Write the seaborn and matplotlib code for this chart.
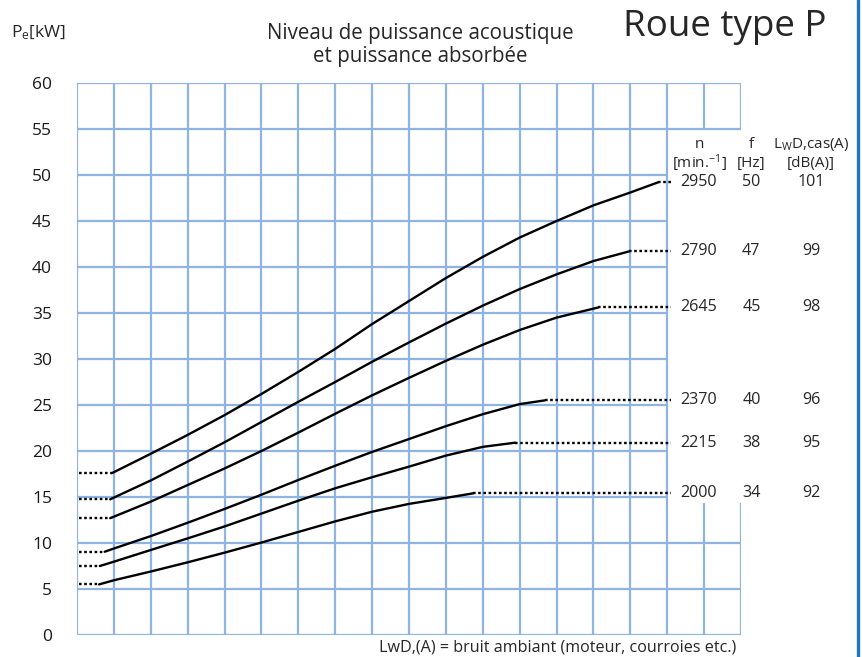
import matplotlib
matplotlib.use("Agg")
import matplotlib.pyplot as plt
from matplotlib.lines import Line2D
import seaborn as sns
import pandas as pd

# Fan speeds, supply frequency and sound power level per curve
speeds = [2950, 2790, 2645, 2370, 2215, 2000]
freqs = [50, 47, 45, 40, 38, 34]
lwd = [101, 99, 98, 96, 95, 92]

# Absorbed power curves: x in grid columns, y in kW
x_2950 = [0.95, 2, 3, 4, 5, 6, 7, 8, 9, 10, 11, 12, 13, 14, 15, 15.75]
p_2950 = [17.6, 19.7, 21.75, 23.9, 26.2, 28.6, 31.1, 33.8, 36.3, 38.8, 41.1, 43.2, 45.0, 46.7, 48.1, 49.2]

x_2790 = [0.9, 2, 3, 4, 5, 6, 7, 8, 9, 10, 11, 12, 13, 14, 14.97]
p_2790 = [14.75, 16.8, 18.85, 20.95, 23.15, 25.35, 27.5, 29.7, 31.8, 33.85, 35.8, 37.6, 39.2, 40.65, 41.7]

x_2645 = [0.9, 2, 3, 4, 5, 6, 7, 8, 9, 10, 11, 12, 13, 14.13]
p_2645 = [12.7, 14.5, 16.3, 18.1, 20.0, 22.0, 24.05, 26.05, 27.95, 29.8, 31.55, 33.15, 34.5, 35.6]

x_2370 = [0.75, 1, 2, 3, 4, 5, 6, 7, 8, 9, 10, 11, 12, 12.68]
p_2370 = [9.05, 9.4, 10.75, 12.2, 13.7, 15.25, 16.85, 18.4, 19.9, 21.3, 22.7, 24.0, 25.1, 25.5]

x_2215 = [0.62, 1, 2, 3, 4, 5, 6, 7, 8, 9, 10, 11, 11.87]
p_2215 = [7.5, 7.97, 9.24, 10.5, 11.8, 13.2, 14.6, 15.95, 17.15, 18.3, 19.5, 20.45, 20.9]

x_2000 = [0.6, 1, 2, 3, 4, 5, 6, 7, 8, 9, 10, 10.74]
p_2000 = [5.5, 5.95, 6.9, 7.9, 8.95, 10.05, 11.2, 12.35, 13.4, 14.25, 14.9, 15.4]

y_ticks = [0, 5, 10, 15, 20, 25, 30, 35, 40, 45, 50, 55, 60]

curves = [(x_2950, p_2950), (x_2790, p_2790), (x_2645, p_2645),
          (x_2370, p_2370), (x_2215, p_2215), (x_2000, p_2000)]

sns.set_theme(style="white")
plt.rcParams["font.family"] = ["Open Sans", "DejaVu Sans"]
plt.rcParams["mathtext.fontset"] = "custom"
plt.rcParams["mathtext.rm"] = "Open Sans"
plt.rcParams["mathtext.it"] = "Open Sans"

GRID = "#8db4e2"
fig = plt.figure(figsize=(8.63, 6.57), dpi=100)
ax = fig.add_axes([77 / 863, 22 / 657, 664 / 863, 552 / 657])
ax.set_xlim(0, 18)
ax.set_ylim(0, 60)
for s in ax.spines.values():
    s.set_visible(False)

# grid: the table area on the right is kept free of lines
for i in range(19):
    if i <= 16:
        ax.vlines(i, 0, 60, color=GRID, lw=1.6, zorder=1)
    else:
        ax.vlines(i, 0, 14.3, color=GRID, lw=1.6, zorder=1)
        ax.vlines(i, 55, 60, color=GRID, lw=1.6, zorder=1)
for v in y_ticks:
    right = 18 if v in (0, 5, 10, 55, 60) else 16
    ax.hlines(v, 0, right, color=GRID, lw=1.6, zorder=1)

ax.set_xticks([])
ax.set_yticks(y_ticks)
ax.set_yticklabels([str(v) for v in y_ticks])
ax.tick_params(axis="y", length=0, pad=18, labelsize=12.5, colors="#1a1a1a")

dot = (0, (1.1, 1.1))
x_end = 16.1
rows = []
for (xs, ps), n in zip(curves, speeds):
    for x, p in zip(xs, ps):
        rows.append({"x": x, "P": p, "n": n})
df = pd.DataFrame(rows)

FS = 11.6
for (xs, ps), n, f, l in zip(curves, speeds, freqs, lwd):
    sub = df[df["n"] == n]
    sns.lineplot(data=sub, x="x", y="P", color="black", lw=1.7, sort=False,
                 estimator=None, ax=ax, zorder=3)
    ax.plot([0.05, xs[0]], [ps[0], ps[0]], color="black", lw=1.7, ls=dot, zorder=3)
    ax.plot([xs[-1], x_end], [ps[-1], ps[-1]], color="black", lw=1.7, ls=dot, zorder=3)
    ax.text(16.86, ps[-1], str(n), ha="center", va="center", fontsize=FS, clip_on=False)
    ax.text(18.28, ps[-1], str(f), ha="center", va="center", fontsize=FS, clip_on=False)
    ax.text(19.9, ps[-1], str(l), ha="center", va="center", fontsize=FS, clip_on=False)

ax.set_xlabel("")
ax.set_ylabel("")

# table header
ax.text(16.86, 53.3, "n", ha="center", va="center", fontsize=11, clip_on=False)
ax.text(16.86, 51.3, r"[min.$^{\mathregular{-1}}$]", ha="center", va="center", fontsize=11, clip_on=False)
ax.text(18.28, 53.3, "f", ha="center", va="center", fontsize=11, clip_on=False)
ax.text(18.28, 51.3, "[Hz]", ha="center", va="center", fontsize=11, clip_on=False)
ax.text(19.9, 53.3, r"L$_{\mathregular{W}}$D,cas(A)", ha="center", va="center", fontsize=11, clip_on=False)
ax.text(19.9, 51.3, "[dB(A)]", ha="center", va="center", fontsize=11, clip_on=False)

# titles and labels
fig.text(39 / 863, 1 - 33 / 657, r"P$_{\mathregular{e}}$[kW]", ha="center", va="center", fontsize=12.5)
fig.text(420 / 863, 1 - 45 / 657, "Niveau de puissance acoustique\net puissance absorbée",
         ha="center", va="center", fontsize=14.8, linespacing=1.1)
fig.text(725 / 863, 1 - 27 / 657, "Roue type P", ha="center", va="center", fontsize=26.5)
fig.text(558 / 863, 1 - 647 / 657, "LwD,(A) = bruit ambiant (moteur, courroies etc.)",
         ha="center", va="center", fontsize=11.6)

fig.add_artist(Line2D([857.5 / 863, 857.5 / 863], [0, 1], color="#1f74c4", lw=2.4,
                      transform=fig.transFigure))

fig.savefig("out.png", dpi=100, facecolor="white")
